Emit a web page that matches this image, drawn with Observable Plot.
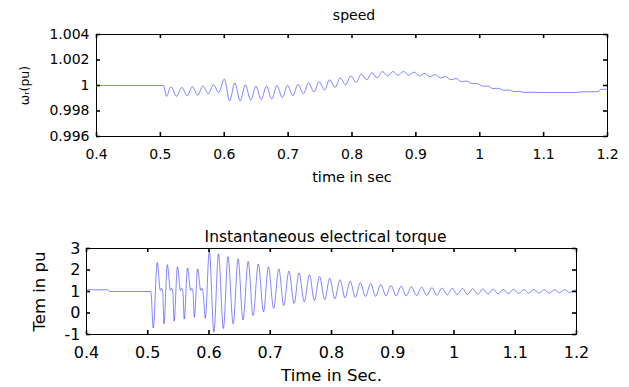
<!DOCTYPE html>
<html><head><meta charset="utf-8">
<script src="https://cdn.jsdelivr.net/npm/d3@7"></script>
<script src="https://cdn.jsdelivr.net/npm/@observablehq/plot@0.6"></script>
<style>
html,body{margin:0;padding:0;background:#fff;}
#wrap{width:629px;height:387px;position:relative;overflow:hidden;background:#fff;}
#wrap svg{display:block;}
</style></head><body><div id="wrap"></div>
<script>
// ---- tick labels ----
const xTicks = [0.4, 0.5, 0.6, 0.7, 0.8, 0.9, 1, 1.1, 1.2];
const speedTicks = [0.996, 0.998, 1, 1.002, 1.004];
const torqueTicks = [-1, 0, 1, 2, 3];

// ---- speed (pu), peaks/troughs ----
const speedTime = [0.400,0.505,0.5095,0.5165,0.5255,0.5335,0.542,0.550,0.5585,0.5665,0.575,0.583,0.5915,0.600,
 0.6085,0.6165,0.625,0.633,0.6415,0.6495,0.658,0.666,0.6745,0.6825,0.691,0.699,0.7075,0.7155,0.724,0.732,
 0.7405,0.7485,0.757,0.765,0.7735,0.7815,0.790,0.798,0.8065,0.8145,0.823,0.831,0.8395,0.8475,0.856,0.864,
 0.8725,0.8805,0.889,0.897,0.9055,0.9135,0.922,0.930,0.9385,0.9465,0.955,0.963,0.9715,0.9795,0.988,0.996,
 1.0045,1.0125,1.021,1.029,1.0375,1.0455,1.054,1.062,1.0705,1.080,1.100,1.150,1.160,1.185,1.190,1.200];
const speedValue = [1.00000,1.00000,0.99915,0.99990,0.99915,0.99985,0.99920,0.99990,0.99925,0.99995,0.99935,1.00005,0.99945,1.00050,
 0.99880,1.00020,0.99880,1.00005,0.99885,0.99995,0.99890,0.99995,0.99895,1.00000,0.99905,1.00000,0.99920,1.00010,0.99935,1.00020,
 0.99950,1.00030,0.99965,1.00045,0.99985,1.00060,1.00005,1.00075,1.00025,1.00090,1.00045,1.00100,1.00060,1.00110,1.00075,1.00110,
 1.00080,1.00110,1.00080,1.00105,1.00075,1.00095,1.00070,1.00085,1.00060,1.00070,1.00045,1.00055,1.00030,1.00035,1.00015,1.00015,
 0.99995,0.99995,0.99975,0.99978,0.99962,0.99965,0.99952,0.99955,0.99945,0.99947,0.99945,0.99945,0.99950,0.99952,0.99970,0.99970];

// ---- electrical torque (pu), peaks/troughs ----
const torqueTime = [0.400,0.435,0.438,0.505,0.509,0.5155,0.5205,0.5225,0.5245,0.5265,0.532,0.537,0.539,0.541,0.543,
 0.5485,0.5535,0.5555,0.5575,0.5595,0.565,0.570,0.572,0.574,0.576,0.5815,0.5865,0.5885,0.5905,0.594,
 0.6005,0.608,0.6155,0.6235,0.631,0.6395,0.6475,0.6555,0.664,0.672,0.6805,0.689,0.697,0.7055,0.714,0.722,
 0.7305,0.739,0.747,0.7555,0.764,0.772,0.7805,0.789,0.797,0.8055,0.814,0.822,0.8305,0.839,0.847,0.8555,
 0.864,0.872,0.8805,0.889,0.897,0.9055,0.914,0.922,0.9305,0.939,0.947,0.9555,0.964,0.972,0.9805,0.989,
 0.997,1.0055,1.014,1.022,1.0305,1.039,1.047,1.0555,1.064,1.072,1.0805,1.089,1.097,1.1055,1.114,1.122,
 1.1305,1.139,1.147,1.1555,1.164,1.172,1.1805,1.189,1.197,1.200];
const torqueValue = [1.08,1.08,1.00,1.00,-0.70,2.35,1.05,1.15,0.95,-0.50,2.25,1.05,1.15,0.95,-0.38,
 2.15,1.05,1.15,0.95,-0.28,2.10,1.05,1.15,0.95,-0.20,2.05,1.05,1.15,0.90,-0.25,
 2.92,-0.88,2.75,-0.72,2.62,-0.50,2.52,-0.32,2.40,-0.12,2.28,0.05,2.15,0.22,2.05,0.35,
 1.95,0.45,1.87,0.52,1.78,0.58,1.70,0.62,1.62,0.66,1.55,0.70,1.48,0.73,1.42,0.76,
 1.37,0.78,1.32,0.80,1.28,0.80,1.25,0.80,1.22,0.81,1.20,0.82,1.18,0.83,1.16,0.84,
 1.15,0.85,1.14,0.86,1.13,0.87,1.12,0.88,1.11,0.89,1.10,0.90,1.10,0.91,1.09,0.92,
 1.09,0.93,1.08,0.93,1.08,0.94,1.08,0.95,1.07,1.05];

const FONT = "'DejaVu Sans', 'Liberation Sans', sans-serif";

function panel(o) {
  const data = o.time.map((t, i) => ({t, v: o.value[i]}));
  const fw = 629 - o.ml - o.mr, fh = o.height - o.mt - o.mb;
  const tk = {stroke: "black", strokeWidth: 1.6};
  return Plot.plot({
    width: 629, height: o.height,
    marginTop: o.mt, marginBottom: o.mb, marginLeft: o.ml, marginRight: o.mr,
    style: {fontFamily: FONT, fontSize: o.tickFont + "px", background: "#fff", color: "#000", overflow: "visible"},
    x: {domain: [0.4, 1.2]},
    y: {domain: o.yDomain},
    marks: [
      Plot.axisX(xTicks, {tickSize: 0, tickPadding: o.padX, label: null, tickFormat: d => String(d), fontSize: o.tickFont}),
      Plot.axisY(o.yTicks, {tickSize: 0, tickPadding: o.padY, label: null, tickFormat: d => String(d), fontSize: o.tickFont}),
      Plot.line(data, {x: "t", y: "v", stroke: "#0000ff", strokeOpacity: 0.6, strokeWidth: 0.8, curve: "monotone-x"}),
      Plot.frame({stroke: "black", strokeWidth: 1}),
      Plot.tickX(xTicks, {x: d => d, insetTop: fh - 4, ...tk}),
      Plot.tickX(xTicks, {x: d => d, insetBottom: fh - 4, ...tk}),
      Plot.tickY(o.yTicks, {y: d => d, insetRight: fw - 4, ...tk}),
      Plot.tickY(o.yTicks, {y: d => d, insetLeft: fw - 4, ...tk}),
      Plot.text([o.title], {text: d => d, frameAnchor: "top", dx: o.titleDx, dy: o.titleDy, fontSize: o.titleSize, lineAnchor: "middle", textAnchor: "middle"}),
      Plot.text([o.xLabel], {text: d => d, frameAnchor: "bottom", dy: o.xLabelDy, fontSize: o.xLabelSize, lineAnchor: "middle", textAnchor: "middle"}),
      Plot.text([o.yLabel], {text: d => d, frameAnchor: "left", dx: o.yLabelDx, rotate: -90, fontSize: o.yLabelSize, lineAnchor: "middle", textAnchor: "middle"})
    ]
  });
}

const wrap = document.getElementById("wrap");
wrap.append(panel({
  time: speedTime, value: speedValue, yDomain: [0.996, 1.004], yTicks: speedTicks,
  height: 200, mt: 34, mb: 64, ml: 96, mr: 22,
  tickFont: 14, padX: 13, padY: 7,
  title: "speed", titleDx: 2, titleDy: -19, titleSize: 14,
  xLabel: "time in sec", xLabelDy: 41, xLabelSize: 14.5,
  yLabel: "ωᵣ(pu)", yLabelDx: -72, yLabelSize: 12.5
}));
wrap.append(panel({
  time: torqueTime, value: torqueValue, yDomain: [-1, 3], yTicks: torqueTicks,
  height: 187, mt: 48, mb: 53, ml: 86, mr: 53,
  tickFont: 16, padX: 12.5, padY: 6,
  title: "Instantaneous electrical torque", titleDx: -6, titleDy: -11, titleSize: 15.5,
  xLabel: "Time in Sec.", xLabelDy: 41, xLabelSize: 16.5,
  yLabel: "Tem in pu", yLabelDx: -47, yLabelSize: 16.5
}));
</script></body></html>
